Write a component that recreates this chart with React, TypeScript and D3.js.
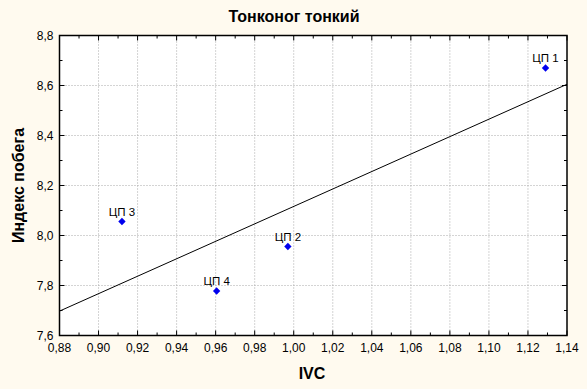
import React from 'react'
import * as d3 from 'd3'

const labels = ['ЦП 1', 'ЦП 2', 'ЦП 3', 'ЦП 4']
const ivc = [1.129, 0.997, 0.912, 0.9605]
const index = [8.67, 7.956, 8.056, 7.778]

const xTicks = [0.88, 0.9, 0.92, 0.94, 0.96, 0.98, 1.0, 1.02, 1.04, 1.06, 1.08, 1.1, 1.12, 1.14]
const yTicks = [7.6, 7.8, 8.0, 8.2, 8.4, 8.6, 8.8]

const fmt = (v: number, d: number) => v.toFixed(d).replace('.', ',')

const App: React.FC = () => {
  const width = 587
  const height = 389
  const margin = { top: 35.5, right: 20, bottom: 53.5, left: 59.5 }
  const innerW = width - margin.left - margin.right
  const innerH = height - margin.top - margin.bottom

  const x = d3.scaleLinear().domain([0.88, 1.14]).range([0, innerW])
  const y = d3.scaleLinear().domain([7.6, 8.8]).range([innerH, 0])

  // least squares fit
  const mx = d3.mean(ivc)!
  const my = d3.mean(index)!
  const sxy = d3.sum(ivc.map((v, i) => (v - mx) * (index[i] - my)))
  const sxx = d3.sum(ivc.map((v) => (v - mx) ** 2))
  const slope = sxy / sxx
  const fit = (v: number) => my + slope * (v - mx)
  const line = d3
    .line<number>()
    .x((d) => x(d))
    .y((d) => y(fit(d)))

  const xMinor = d3.range(0.88, 1.1401, 0.01)
  const yMinor = d3.range(7.6, 8.801, 0.1)

  const font = "'Liberation Sans', Arial, sans-serif"

  return (
    <svg width={width} height={height} style={{ position: 'absolute', left: 0, top: 0, background: '#fffaef' }}>
      <text x={294} y={22} textAnchor="middle" fontFamily={font} fontSize={16} fontWeight="bold">
        Тонконог тонкий
      </text>
      <g transform={`translate(${margin.left},${margin.top})`}>
        <rect width={innerW} height={innerH} fill="#fff" />
        {xTicks.slice(1, -1).map((t) => (
          <line key={'gx' + t} x1={x(t)} x2={x(t)} y1={0} y2={innerH} stroke="#a8a8a8" strokeDasharray="1,2" />
        ))}
        {yTicks.slice(1, -1).map((t) => (
          <line key={'gy' + t} x1={0} x2={innerW} y1={y(t)} y2={y(t)} stroke="#a8a8a8" strokeDasharray="1,2" />
        ))}
        {xMinor.map((t, i) => {
          const len = i % 2 === 0 ? 5 : 3
          return (
            <g key={'tx' + i}>
              <line x1={x(t)} x2={x(t)} y1={innerH} y2={innerH - len} stroke="#000" />
              <line x1={x(t)} x2={x(t)} y1={0} y2={len} stroke="#000" />
            </g>
          )
        })}
        {yMinor.map((t, i) => {
          const len = i % 2 === 0 ? 5 : 3
          return (
            <g key={'ty' + i}>
              <line x1={0} x2={len} y1={y(t)} y2={y(t)} stroke="#000" />
              <line x1={innerW} x2={innerW - len} y1={y(t)} y2={y(t)} stroke="#000" />
            </g>
          )
        })}
        <path d={line([0.88, 1.14]) ?? ''} fill="none" stroke="#000" strokeWidth={1} />
        {ivc.map((v, i) => (
          <g key={labels[i]} transform={`translate(${x(v)},${y(index[i])})`}>
            <rect x={-2.6} y={-2.6} width={5.2} height={5.2} transform="rotate(45)" fill="#0000ee" />
            <text y={-6} textAnchor="middle" fontFamily={font} fontSize={11.5} fill="#000">
              {labels[i]}
            </text>
          </g>
        ))}
        <rect width={innerW} height={innerH} fill="none" stroke="#000" strokeWidth={1.5} />
        {xTicks.map((t) => (
          <text key={'lx' + t} x={x(t)} y={innerH + 16} textAnchor="middle" fontFamily={font} fontSize={12}>
            {fmt(t, 2)}
          </text>
        ))}
        {yTicks.map((t) => (
          <text key={'ly' + t} x={-6} y={y(t) + 4} textAnchor="end" fontFamily={font} fontSize={12}>
            {fmt(t, 1)}
          </text>
        ))}
      </g>
      <text x={312} y={379} textAnchor="middle" fontFamily={font} fontSize={16} fontWeight="bold">
        IVC
      </text>
      <text
        transform={`translate(24,${margin.top + innerH / 2}) rotate(-90)`}
        textAnchor="middle"
        fontFamily={font}
        fontSize={16}
        fontWeight="bold"
      >
        Индекс побега
      </text>
    </svg>
  )
}

export default App
